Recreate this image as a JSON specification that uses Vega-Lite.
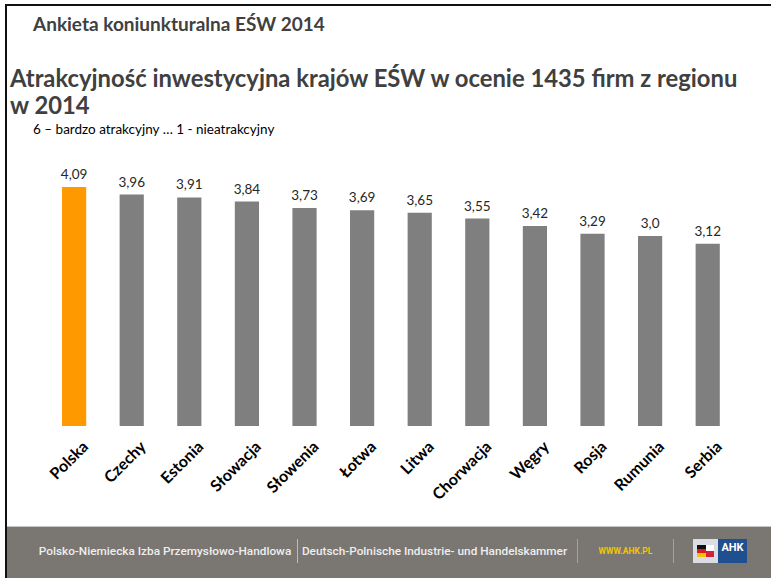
{
  "$schema": "https://vega.github.io/schema/vega-lite/v6.json",
  "padding": {"top": 4, "left": 5, "right": 0, "bottom": 0},
  "background": "white",
  "config": {
    "view": {"stroke": null},
    "concat": {"spacing": 0},
    "font": "Lato"
  },
  "spacing": 0,
  "hconcat": [
    {
      "width": 2, "height": 574,
      "data": {"values": [{}]},
      "mark": {"type": "rect", "color": "#111111"}
    },
    {
      "spacing": 0,
      "vconcat": [
        {
          "width": 764, "height": 2,
          "data": {"values": [{}]},
          "mark": {"type": "rect", "color": "#111111"}
        },
        {
          "width": 764, "height": 10,
          "data": {"values": [{}]},
          "mark": {"type": "rect", "color": "#ffffff"}
        },
        {
          "title": {
            "text": "Ankieta koniunkturalna EŚW 2014",
            "anchor": "start",
            "dx": 26,
            "offset": 32,
            "fontSize": 19,
            "fontWeight": "bold",
            "font": "Lato",
            "color": "#404040"
          },
          "width": 764, "height": 1,
          "data": {"values": [{}]},
          "mark": {"type": "rect", "color": "#ffffff"}
        },
        {
          "title": {
            "text": ["Atrakcyjność inwestycyjna krajów EŚW w ocenie 1435 firm z regionu", "w 2014"],
            "anchor": "start",
            "dx": 3,
            "offset": 2,
            "fontSize": 23.8,
            "lineHeight": 27,
            "fontWeight": "bold",
            "font": "Lato",
            "color": "#404040"
          },
          "width": 764,
          "height": 1,
          "data": {"values": [{}]},
          "mark": {"type": "rect", "color": "#ffffff"}
        },
        {
          "title": {
            "text": "6 – bardzo atrakcyjny … 1 - nieatrakcyjny",
            "anchor": "start",
            "dx": 26,
            "offset": 27,
            "fontSize": 13.5,
            "fontWeight": "normal",
            "font": "Lato",
            "color": "#000000"
          },
          "width": 764,
          "height": 263,
          "data": {
            "values": [
              {"kraj": "Polska", "wartosc": 4.09, "etykieta": "4,09"},
              {"kraj": "Czechy", "wartosc": 3.96, "etykieta": "3,96"},
              {"kraj": "Estonia", "wartosc": 3.91, "etykieta": "3,91"},
              {"kraj": "Słowacja", "wartosc": 3.84, "etykieta": "3,84"},
              {"kraj": "Słowenia", "wartosc": 3.73, "etykieta": "3,73"},
              {"kraj": "Łotwa", "wartosc": 3.69, "etykieta": "3,69"},
              {"kraj": "Litwa", "wartosc": 3.65, "etykieta": "3,65"},
              {"kraj": "Chorwacja", "wartosc": 3.55, "etykieta": "3,55"},
              {"kraj": "Węgry", "wartosc": 3.42, "etykieta": "3,42"},
              {"kraj": "Rosja", "wartosc": 3.29, "etykieta": "3,29"},
              {"kraj": "Rumunia", "wartosc": 3.25, "etykieta": "3,0"},
              {"kraj": "Serbia", "wartosc": 3.12, "etykieta": "3,12"}
            ]
          },
          "encoding": {
            "x": {
              "field": "kraj",
              "type": "nominal",
              "sort": null,
              "scale": {"paddingInner": 0.58, "paddingOuter": 0.922, "align": 0.518},
              "axis": {
                "title": null,
                "labelAngle": -45,
                "labelFont": "Lato",
                "labelFontWeight": "bold",
                "labelFontSize": 16,
                "labelColor": "#000000",
                "ticks": false,
                "domain": false,
                "labelPadding": 12,
                "labelOffset": 6,
                "minExtent": 100,
                "maxExtent": 100
              }
            },
            "y": {
              "field": "wartosc",
              "type": "quantitative",
              "scale": {"domain": [0, 4.5]},
              "axis": null
            }
          },
          "layer": [
            {
              "mark": {"type": "bar"},
              "encoding": {
                "color": {
                  "condition": {"test": "datum.kraj === 'Polska'", "value": "#FF9900"},
                  "value": "#7F7F7F"
                }
              }
            },
            {
              "mark": {"type": "text", "baseline": "bottom", "dy": -5, "fontSize": 13.5, "font": "Lato", "color": "#262626"},
              "encoding": {"text": {"field": "etykieta"}}
            }
          ]
        },
        {
          "spacing": 0,
          "vconcat": [
            {
              "width": 764, "height": 1,
              "data": {"values": [{}]},
              "mark": {"type": "rect", "color": "#c9c6c3"}
            },
            {
              "width": 764, "height": 12,
              "data": {"values": [{}]},
              "mark": {"type": "rect", "color": "#7a7672"}
            },
            {
              "spacing": 0,
              "hconcat": [
                {"width": 31, "height": 24, "data": {"values": [{}]}, "mark": {"type": "rect", "color": "#7a7672"}},
                {"width": 254, "height": 24, "view": {"fill": "#7a7672"},
                 "data": {"values": [{"t": "Polsko-Niemiecka Izba Przemysłowo-Handlowa"}]},
                 "mark": {"type": "text", "font": "Roboto", "fontSize": 11.8, "fontWeight": 500, "color": "#eeeeee"},
                 "encoding": {"text": {"field": "t"}}},
                {"width": 5, "height": 24, "data": {"values": [{}]}, "mark": {"type": "rect", "color": "#7a7672"}},
                {"width": 1, "height": 24, "data": {"values": [{}]}, "mark": {"type": "rect", "color": "#bdb9b5"}},
                {"width": 273, "height": 24, "view": {"fill": "#7a7672"},
                 "data": {"values": [{"t": "Deutsch-Polnische Industrie- und Handelskammer"}]},
                 "mark": {"type": "text", "font": "Roboto", "fontSize": 11.8, "fontWeight": 500, "color": "#eeeeee"},
                 "encoding": {"text": {"field": "t"}}},
                {"width": 6, "height": 24, "data": {"values": [{}]}, "mark": {"type": "rect", "color": "#7a7672"}},
                {"width": 1, "height": 24, "data": {"values": [{}]}, "mark": {"type": "rect", "color": "#a4a09c"}},
                {"width": 95, "height": 24, "view": {"fill": "#7a7672"},
                 "data": {"values": [{"t": "WWW.AHK.PL"}]},
                 "mark": {"type": "text", "font": "Roboto", "fontSize": 8.5, "fontWeight": "bold", "color": "#f2c500"},
                 "encoding": {"text": {"field": "t"}}},
                {"width": 1, "height": 24, "data": {"values": [{}]}, "mark": {"type": "rect", "color": "#a4a09c"}},
                {"width": 19, "height": 24, "data": {"values": [{}]}, "mark": {"type": "rect", "color": "#7a7672"}},
                {
                  "spacing": 0,
                  "vconcat": [
                    {"width": 25, "height": 6, "data": {"values": [{}]}, "mark": {"type": "rect", "color": "#dcdde3"}},
                    {
                      "spacing": 0,
                      "hconcat": [
                        {"width": 4, "height": 12, "data": {"values": [{}]}, "mark": {"type": "rect", "color": "#dcdde3"}},
                        {
                          "spacing": 0,
                          "vconcat": [
                            {"width": 9, "height": 4, "data": {"values": [{}]}, "mark": {"type": "rect", "color": "#111111"}},
                            {"width": 9, "height": 4, "data": {"values": [{}]}, "mark": {"type": "rect", "color": "#dd1d21"}},
                            {"width": 9, "height": 4, "data": {"values": [{}]}, "mark": {"type": "rect", "color": "#f5c400"}}
                          ]
                        },
                        {
                          "spacing": 0,
                          "vconcat": [
                            {"width": 8, "height": 6, "data": {"values": [{}]}, "mark": {"type": "rect", "color": "#ffffff"}},
                            {"width": 8, "height": 6, "data": {"values": [{}]}, "mark": {"type": "rect", "color": "#d4213d"}}
                          ]
                        },
                        {"width": 4, "height": 12, "data": {"values": [{}]}, "mark": {"type": "rect", "color": "#dcdde3"}}
                      ]
                    },
                    {"width": 25, "height": 6, "data": {"values": [{}]}, "mark": {"type": "rect", "color": "#dcdde3"}}
                  ]
                },
                {"width": 29, "height": 24, "view": {"fill": "#1f4f8e"},
                 "data": {"values": [{"t": "AHK"}]},
                 "mark": {"type": "text", "font": "Roboto", "fontSize": 11, "fontWeight": "bold", "color": "#ffffff", "dy": -3},
                 "encoding": {"text": {"field": "t"}}},
                {"width": 24, "height": 24, "data": {"values": [{}]}, "mark": {"type": "rect", "color": "#7a7672"}}
              ]
            },
            {
              "width": 764, "height": 15,
              "data": {"values": [{}]},
              "mark": {"type": "rect", "color": "#7a7672"}
            }
          ]
        }
      ]
    }
  ]
}
